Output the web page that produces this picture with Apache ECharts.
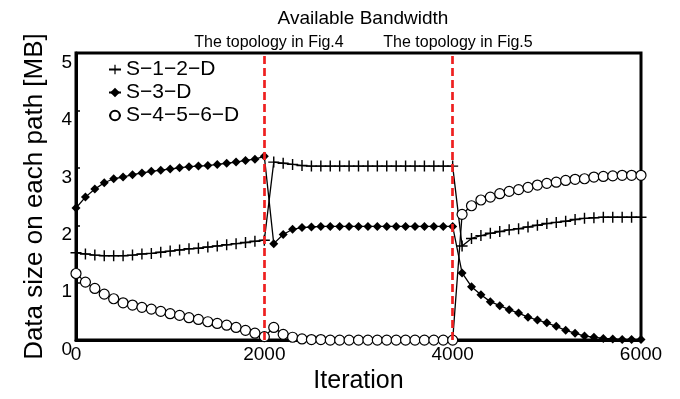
<!DOCTYPE html>
<html>
<head>
<meta charset="utf-8">
<script src="https://cdn.jsdelivr.net/npm/echarts@6/dist/echarts.min.js"></script>
<style>
	html, body { margin: 0; padding: 0; background: #fff; }
	#main { width: 680px; height: 399px; }
</style>
</head>
<body>
<div id="main"></div>
<script>
var FONT = 'Liberation Sans, Arial, sans-serif';

// iteration of each sample (one marker every 100 iterations)
var iterations = [
	0, 100, 200, 300, 400, 500, 600, 700, 800, 900,
	1000, 1100, 1200, 1300, 1400, 1500, 1600, 1700, 1800, 1900,
	2000, 2100, 2200, 2300, 2400, 2500, 2600, 2700, 2800, 2900,
	3000, 3100, 3200, 3300, 3400, 3500, 3600, 3700, 3800, 3900,
	4000, 4100, 4200, 4300, 4400, 4500, 4600, 4700, 4800, 4900,
	5000, 5100, 5200, 5300, 5400, 5500, 5600, 5700, 5800, 5900,
	6000
];

var seriesNames = ['S\u22121\u22122\u2212D', 'S\u22123\u2212D', 'S\u22124\u22125\u22126\u2212D'];

// S-1-2-D
var path12 = [
	1.52, 1.50, 1.48, 1.47, 1.47, 1.47, 1.48, 1.50, 1.51, 1.53,
	1.55, 1.57, 1.59, 1.60, 1.62, 1.64, 1.66, 1.68, 1.70, 1.72,
	1.74, 3.10, 3.08, 3.06, 3.04, 3.03, 3.03, 3.03, 3.03, 3.03,
	3.03, 3.03, 3.03, 3.03, 3.03, 3.03, 3.03, 3.03, 3.03, 3.03,
	3.03, 1.64, 1.77, 1.82, 1.86, 1.89, 1.92, 1.94, 1.97, 2.00,
	2.03, 2.05, 2.07, 2.10, 2.12, 2.13, 2.14, 2.14, 2.14, 2.14,
	2.14
];
// S-3-D
var path3 = [
	2.30, 2.49, 2.63, 2.74, 2.81, 2.84, 2.88, 2.91, 2.94, 2.96,
	2.98, 3.00, 3.02, 3.03, 3.04, 3.06, 3.08, 3.10, 3.13, 3.15,
	3.20, 1.68, 1.84, 1.93, 1.96, 1.97, 1.98, 1.98, 1.98, 1.98,
	1.98, 1.98, 1.98, 1.98, 1.98, 1.98, 1.98, 1.98, 1.98, 1.98,
	1.98, 1.17, 0.93, 0.79, 0.67, 0.60, 0.53, 0.47, 0.40, 0.35,
	0.30, 0.24, 0.17, 0.12, 0.07, 0.05, 0.03, 0.02, 0.01, 0.01,
	0.01
];
// S-4-5-6-D
var path456 = [
	1.16, 1.01, 0.90, 0.80, 0.72, 0.65, 0.61, 0.57, 0.54, 0.50,
	0.46, 0.43, 0.39, 0.36, 0.32, 0.29, 0.26, 0.22, 0.17, 0.12,
	0.06, 0.22, 0.10, 0.05, 0.02, 0.01, 0.01, 0, 0, 0,
	0, 0, 0, 0, 0, 0, 0, 0, 0, 0,
	0, 2.19, 2.34, 2.44, 2.49, 2.55, 2.59, 2.62, 2.66, 2.70,
	2.73, 2.75, 2.78, 2.80, 2.81, 2.84, 2.85, 2.86, 2.87, 2.87,
	2.87
];

// topology switch points
var switchAt = [2000, 4000];

function pairs(values) {
	var res = [];
	for (var i = 0; i < iterations.length; i++) {
		res.push([iterations[i], values[i]]);
	}
	return res;
}

var crossSymbol = 'path://M0,4.35H10V5.65H0Z M4.35,0H5.65V10H4.35Z';

var myChart = echarts.init(document.getElementById('main'));
myChart.setOption({
	animation: false,
	textStyle: { fontFamily: FONT },
	title: [
		{
			text: 'Available Bandwidth',
			left: 358, top: 4, textAlign: 'center',
			textStyle: { fontFamily: FONT, fontSize: 19, fontWeight: 'normal', color: '#000' }
		},
		{
			text: 'The topology in Fig.4',
			left: 264, top: 30, textAlign: 'center',
			textStyle: { fontFamily: FONT, fontSize: 16, fontWeight: 'normal', color: '#000' }
		},
		{
			text: 'The topology in Fig.5',
			left: 453, top: 30, textAlign: 'center',
			textStyle: { fontFamily: FONT, fontSize: 16, fontWeight: 'normal', color: '#000' }
		}
	],
	legend: {
		orient: 'vertical',
		left: 103,
		top: 54,
		itemWidth: 12,
		itemHeight: 12,
		itemGap: 2,
		textStyle: { fontFamily: FONT, fontSize: 21, color: '#000' },
		data: seriesNames
	},
	grid: {
		left: 76, right: 39, top: 53, bottom: 58,
		show: true,
		borderColor: '#000',
		borderWidth: 3
	},
	xAxis: {
		type: 'value',
		min: 0, max: 6000, interval: 2000,
		name: 'Iteration',
		nameLocation: 'middle',
		nameGap: 28,
		nameTextStyle: { fontFamily: FONT, fontSize: 25, color: '#000' },
		splitLine: { show: false },
		axisTick: { show: false },
		axisLine: { lineStyle: { color: '#000', width: 3 } },
		axisLabel: {
			fontFamily: FONT, fontSize: 19, color: '#000', margin: 5,
			formatter: function (v) { return String(v); }
		}
	},
	yAxis: {
		type: 'value',
		min: 0, max: 5, interval: 1,
		name: 'Data size on each path [MB]',
		nameLocation: 'middle',
		nameGap: 28,
		nameTextStyle: { fontFamily: FONT, fontSize: 26, color: '#000' },
		splitLine: { show: false },
		axisTick: { show: true, inside: true, length: 4, lineStyle: { color: '#000', width: 1.5 } },
		axisLine: { show: true, lineStyle: { color: '#000', width: 3 } },
		axisLabel: { fontFamily: FONT, fontSize: 19, color: '#000', margin: 4, verticalAlign: 'top' }
	},
	series: [
		{
			name: seriesNames[0],
			type: 'line',
			clip: false,
			symbol: crossSymbol,
			symbolSize: 11,
			itemStyle: { color: '#000' },
			lineStyle: { color: '#000', width: 1.3 },
			data: pairs(path12)
		},
		{
			name: seriesNames[1],
			type: 'line',
			clip: false,
			symbol: 'diamond',
			symbolSize: 9,
			itemStyle: { color: '#000' },
			lineStyle: { color: '#000', width: 1.3 },
			data: pairs(path3)
		},
		{
			name: seriesNames[2],
			type: 'line',
			clip: false,
			symbol: 'circle',
			symbolSize: 10,
			itemStyle: { color: '#fff', borderColor: '#000', borderWidth: 1.2 },
			lineStyle: { color: '#000', width: 1.3 },
			data: pairs(path456),
			markLine: {
				silent: true,
				symbol: 'none',
				z: 10,
				label: { show: false },
				lineStyle: { color: '#ee2020', width: 2.7, type: [8, 4] },
				data: switchAt.map(function (v) { return { xAxis: v }; })
			}
		}
	]
});
</script>
</body>
</html>
